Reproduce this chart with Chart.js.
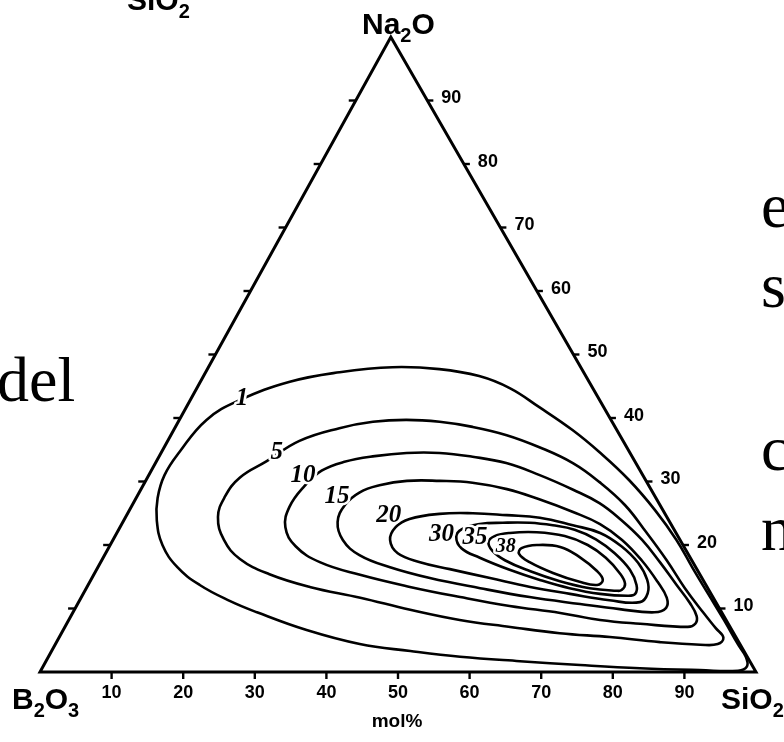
<!DOCTYPE html>
<html lang="es">
<head>
    <meta charset="UTF-8">
    <title>Diagrama ternario Na2O - B2O3 - SiO2</title>
    <script src="https://cdn.jsdelivr.net/npm/chart.js@4.4.1/dist/chart.umd.min.js"></script>
    <style>
        html, body { margin: 0; padding: 0; background: #ffffff; }
        .chart-container { position: relative; width: 784px; height: 742px; }
    </style>
</head>
<body>
    <div class="chart-container">
        <canvas id="ternaryChart"></canvas>
    </div>

    <script>
        // --- Datos: composiciones en mol% [SiO2, Na2O]  (B2O3 = 100 - SiO2 - Na2O) ---
        const levels = [1, 5, 10, 15, 20, 30, 35, 38];

        const contour1 = [[98.3,0.9],[97.4,0.2],[92.0,0.3],[83.5,0.6],[74.9,1.1],[66.2,1.7],[57.5,2.4],[50.1,3.3],[42.5,4.4],[34.0,6.6],[25.7,9.4],[21.0,11.2],[15.6,13.7],[11.1,16.5],[7.3,20.0],[4.6,23.9],[3.0,27.4],[2.2,31.0],[2.5,34.6],[3.8,39.7],[6.9,42.8],[12.5,45.7],[18.7,47.2],[25.7,48.0],[32.4,47.7],[38.5,46.6],[43.7,44.7],[49.3,41.7],[55.7,38.1],[61.2,34.6],[67.5,30.2],[73.4,25.5],[78.7,20.8],[83.1,16.4],[87.5,12.1],[91.5,8.2],[95.4,4.3],[97.4,2.4]];
        const contour5 = [[92.8,5.4],[92.5,4.4],[90.1,4.3],[84.3,4.7],[76.9,5.5],[69.6,6.1],[62.2,7.1],[54.6,8.2],[46.9,9.8],[39.0,11.7],[31.1,13.4],[24.5,15.4],[19.2,17.8],[15.5,20.8],[12.9,24.4],[12.3,27.6],[12.9,30.6],[15.4,33.2],[18.4,36.4],[23.0,38.4],[27.2,39.4],[31.7,39.7],[36.5,39.4],[41.5,38.6],[46.9,37.3],[52.4,35.4],[58.3,32.9],[63.5,29.9],[68.8,26.3],[73.9,22.0],[78.9,17.6],[83.6,13.2],[88.0,9.4],[91.0,6.9]];
        const contour10 = [[87.4,8.8],[87.8,7.6],[87.0,7.1],[80.1,7.6],[74.2,8.2],[68.1,9.3],[60.5,10.4],[52.9,11.8],[45.1,13.4],[37.2,15.3],[30.6,17.3],[26.0,19.8],[23.1,22.8],[22.1,26.0],[22.6,29.3],[23.8,31.7],[26.3,33.1],[30.1,34.0],[34.3,34.5],[38.9,34.5],[43.8,33.9],[49.0,32.9],[54.6,31.0],[60.4,28.7],[65.1,26.6],[69.5,23.9],[73.9,20.8],[78.1,17.3],[82.2,13.7],[85.4,10.9]];
        const contour15 = [[81.8,11.7],[82.5,10.1],[81.2,9.4],[76.1,9.9],[70.2,10.7],[62.6,11.8],[55.0,13.2],[47.2,14.8],[40.8,16.5],[35.6,18.4],[32.1,20.8],[30.0,23.6],[29.7,26.3],[30.8,28.3],[33.0,29.4],[36.5,30.1],[41.1,30.1],[45.8,29.8],[51.1,28.8],[56.4,27.2],[62.1,25.2],[66.8,23.3],[71.1,20.8],[75.4,17.6],[79.3,14.2]];
        const contour20 = [[78.8,12.4],[78.4,11.0],[74.0,11.3],[68.0,12.3],[61.9,13.4],[55.6,14.8],[49.3,16.2],[44.6,17.3],[40.8,18.7],[38.7,20.8],[38.5,22.8],[39.8,24.1],[43.6,24.9],[48.2,25.0],[53.1,24.7],[57.9,24.3],[63.1,23.1],[67.5,21.9],[71.5,19.8],[75.1,17.2],[77.7,14.5]];
        const contour30 = [[77.1,12.3],[76.2,12.0],[72.2,12.3],[67.5,13.2],[62.7,14.5],[57.7,16.1],[52.6,18.0],[49.3,19.5],[47.7,21.3],[47.9,22.5],[50.0,23.3],[53.1,23.5],[56.9,23.5],[60.3,23.1],[63.7,22.4],[67.4,20.9],[71.1,18.7],[74.5,16.1],[76.6,13.7]];
        const contour35 = [[74.9,12.9],[74.2,12.8],[70.3,13.2],[65.6,14.3],[60.6,15.9],[56.3,17.6],[53.8,19.1],[52.6,20.5],[53.0,21.4],[54.9,21.9],[58.6,22.0],[62.8,21.4],[66.7,20.0],[70.2,18.0],[73.3,15.6],[74.9,13.9]];
        const contour38 = [[71.5,14.5],[71.1,13.7],[68.4,14.2],[64.0,15.6],[59.9,17.3],[57.8,18.6],[57.7,19.5],[59.6,20.0],[63.0,19.7],[66.5,18.1],[70.0,15.9]];

        const contours = [contour1, contour5, contour10, contour15, contour20, contour30, contour35, contour38];

        // posición de cada etiqueta de nivel (mol% [SiO2, Na2O])
        const labelPositions = [[7.1,43.1],[16.1,34.6],[21.6,30.9],[27.9,27.7],[36.6,24.7],[45.5,21.6],[50.4,21.1],[55.4,19.7]];

        const tickValues = [10, 20, 30, 40, 50, 60, 70, 80, 90];
        const corners = [[0, 0], [100, 0], [0, 100]]; // B2O3, SiO2, Na2O

        // el vértice Na2O no está centrado exactamente sobre la base
        const apexShift = 0.49;
        const toXY = p => ({ x: p[0] + apexShift * p[1], y: p[1] });

        // --- Plugin: cerrar las curvas, ticks y textos ---
        function drawFormula(ctx, text, x, y, size) {
            let cx = x;
            for (const ch of text) {
                const sub = /[0-9]/.test(ch);
                ctx.font = 'bold ' + (sub ? Math.round(size * 0.68) : size) + 'px "Liberation Sans", Arial, sans-serif';
                ctx.fillText(ch, cx, sub ? y + size * 0.27 : y);
                cx += ctx.measureText(ch).width;
            }
        }

        const ternaryDecor = {
            id: 'ternaryDecor',
            afterDatasetsUpdate(chart) {
                chart.data.datasets.forEach((ds, i) => {
                    const line = chart.getDatasetMeta(i).dataset;
                    if (line) { line._loop = true; line._fullLoop = true; }
                });
            },
            afterDraw(chart) {
                const ctx = chart.ctx;
                const xs = chart.scales.x, ys = chart.scales.y;
                const pos = p => [xs.getPixelForValue(p[0] + apexShift * p[1]), ys.getPixelForValue(p[1])];
                const seg = (x1, y1, x2, y2) => { ctx.beginPath(); ctx.moveTo(x1, y1); ctx.lineTo(x2, y2); ctx.stroke(); };

                ctx.save();
                ctx.strokeStyle = '#000';
                ctx.fillStyle = '#000';
                ctx.lineWidth = 2.4;
                ctx.font = 'bold 18px "Liberation Sans", Arial, sans-serif';

                tickValues.forEach(v => {
                    // base (SiO2)
                    const [bx, by] = pos([v, 0]);
                    seg(bx, by, bx, by + 7);
                    ctx.textAlign = 'center';
                    ctx.textBaseline = 'middle';
                    ctx.fillText(String(v), bx, by + 21);
                    // lado izquierdo
                    const [lx, ly] = pos([0, v]);
                    seg(lx - 7, ly, lx, ly);
                    // lado derecho (Na2O)
                    const [rx, ry] = pos([100 - v, v]);
                    seg(rx, ry, rx + 6, ry);
                    ctx.textAlign = 'left';
                    ctx.fillText(String(v), rx + 14, ry - 2);
                });

                // etiquetas de nivel
                ctx.textAlign = 'center';
                ctx.textBaseline = 'middle';
                ctx.lineJoin = 'round';
                levels.forEach((lv, i) => {
                    const [tx, ty] = pos(labelPositions[i]);
                    const size = lv === 38 ? 20 : 25;
                    ctx.font = 'italic bold ' + size + 'px "Liberation Serif", "Times New Roman", serif';
                    ctx.strokeStyle = '#fff';
                    ctx.lineWidth = 5;
                    ctx.strokeText(String(lv), tx, ty);
                    ctx.fillStyle = '#000';
                    ctx.fillText(String(lv), tx, ty);
                });

                // vértices y unidades
                ctx.fillStyle = '#000';
                ctx.textAlign = 'left';
                ctx.textBaseline = 'alphabetic';
                drawFormula(ctx, 'Na2O', 362, 34, 30);
                drawFormula(ctx, 'B2O3', 12, 709, 30);
                drawFormula(ctx, 'SiO2', 721, 709, 30);
                drawFormula(ctx, 'SiO2', 127, 10, 30);
                ctx.font = 'bold 19px "Liberation Sans", Arial, sans-serif';
                ctx.textAlign = 'center';
                ctx.fillText('mol%', 397, 727);

                // texto del documento alrededor de la figura
                ctx.font = '64px "Liberation Serif", "Times New Roman", serif';
                ctx.textAlign = 'left';
                ctx.fillText('del', -3, 401);
                ctx.fillText('e', 761, 227);
                ctx.fillText('s', 761, 307);
                ctx.fillText('c', 761, 470);
                ctx.fillText('n', 761, 550);
                ctx.restore();
            }
        };

        // --- Datasets ---
        const datasets = [{
            label: 'triángulo',
            data: corners.map(toXY),
            borderColor: '#000',
            borderWidth: 3,
            tension: 0,
            borderJoinStyle: 'miter'
        }].concat(contours.map((c, i) => ({
            label: 'nivel ' + levels[i],
            data: c.map(toXY),
            borderColor: '#000',
            borderWidth: 2.6,
            tension: 0.42
        })));

        const ctx = document.getElementById('ternaryChart').getContext('2d');
        new Chart(ctx, {
            type: 'line',
            data: { datasets: datasets },
            options: {
                responsive: true,
                maintainAspectRatio: false,
                animation: false,
                events: [],
                spanGaps: true,
                clip: false,
                elements: { point: { radius: 0 }, line: { fill: false } },
                layout: { padding: { left: 40, right: 28, top: 37, bottom: 70 } },
                scales: {
                    x: { type: 'linear', min: 0, max: 100, display: false },
                    y: { type: 'linear', min: 0, max: 100, display: false }
                },
                plugins: {
                    legend: { display: false },
                    tooltip: { enabled: false }
                }
            },
            plugins: [ternaryDecor]
        });
    </script>
</body>
</html>
